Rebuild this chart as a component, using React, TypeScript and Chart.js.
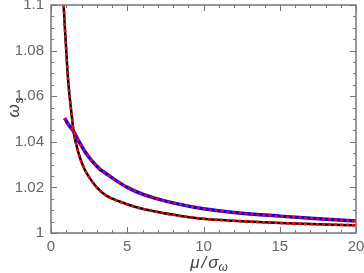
import React, { useEffect, useRef } from "react";
import { Chart, registerables } from "chart.js";

Chart.register(...registerables);

const xTicks = [0, 5, 10, 15, 20];
const yTicks = [1, 1.02, 1.04, 1.06, 1.08, 1.1];

const blackX = [0.83, 0.9, 1.0, 1.1, 1.22, 1.35, 1.48, 1.65, 1.9, 2.2, 2.5, 3, 3.6, 4.5, 5.5, 7, 8.5, 10, 12.5, 15, 17.5, 20];
const blackY = [1.1, 1.091, 1.08, 1.069, 1.06, 1.052, 1.0446, 1.039, 1.033, 1.028, 1.0245, 1.02, 1.0165, 1.0138, 1.0115, 1.0092, 1.0075, 1.0062, 1.0052, 1.0044, 1.0038, 1.0034];

const blueX = [0.89, 1.1, 1.3, 1.5, 1.8, 2.2, 2.7, 3.2, 3.56, 4.2, 5, 6, 6.8, 8, 10, 12, 15, 17.5, 20];
const blueY = [1.0504, 1.048, 1.0462, 1.0443, 1.0405, 1.036, 1.0315, 1.028, 1.0263, 1.0233, 1.02, 1.017, 1.0153, 1.0132, 1.0106, 1.009, 1.0074, 1.0063, 1.0053];

const pts = (xs: number[], ys: number[]) => xs.map((x, i) => ({ x, y: ys[i] }));

const frameColor = "#777";
const labelColor = "#666";

const framePlugin = {
  id: "frame",
  afterDatasetsDraw(chart: any) {
    const { ctx, chartArea: a, scales } = chart;
    const xs = scales.x;
    const ys = scales.y;
    ctx.save();
    ctx.strokeStyle = frameColor;
    ctx.lineWidth = 1;
    ctx.beginPath();
    for (let v = 0; v <= 20; v += 1) {
      const px = Math.round(xs.getPixelForValue(v)) + 0.5;
      const len = v % 5 === 0 ? 6 : 3;
      ctx.moveTo(px, a.bottom);
      ctx.lineTo(px, a.bottom - len);
      ctx.moveTo(px, a.top);
      ctx.lineTo(px, a.top + len);
    }
    for (let k = 0; k <= 20; k++) {
      const v = 1 + k * 0.005;
      const py = Math.round(ys.getPixelForValue(v)) + 0.5;
      const len = k % 4 === 0 ? 6 : 3;
      ctx.moveTo(a.left, py);
      ctx.lineTo(a.left + len, py);
      ctx.moveTo(a.right, py);
      ctx.lineTo(a.right - len, py);
    }
    ctx.stroke();
    ctx.lineWidth = 1.5;
    ctx.strokeRect(a.left, a.top, a.right - a.left, a.bottom - a.top);
    // axis titles
    ctx.fillStyle = "#444";
    ctx.textBaseline = "alphabetic";
    ctx.textAlign = "left";
    const big = "italic 17px 'Liberation Sans', Arial, sans-serif";
    const small = "italic 12px 'Liberation Sans', Arial, sans-serif";
    // x title: μ/σ_ω
    const baseY = 268;
    const parts = ["\u03bc", "/", "\u03c3"];
    const gaps = [2, 2, 0];
    ctx.font = big;
    let total = 0;
    const widths = parts.map((p) => ctx.measureText(p).width);
    widths.forEach((w, i) => (total += w + gaps[i]));
    ctx.font = small;
    const sw = ctx.measureText("\u03c9").width;
    total += sw;
    let x = 209 - total / 2;
    ctx.font = big;
    parts.forEach((p, i) => {
      ctx.fillText(p, x, baseY);
      x += widths[i] + gaps[i];
    });
    ctx.font = small;
    ctx.fillText("\u03c9", x, baseY + 3);
    // y title: ω_s rotated
    ctx.translate(19, 108);
    ctx.rotate(-Math.PI / 2);
    ctx.font = big;
    const ow = ctx.measureText("\u03c9").width;
    ctx.font = "12px 'Liberation Sans', Arial, sans-serif";
    const sw2 = ctx.measureText("s").width;
    const sx = -(ow + sw2) / 2;
    ctx.font = big;
    ctx.fillText("\u03c9", sx, 0);
    ctx.font = "12px 'Liberation Sans', Arial, sans-serif";
    ctx.fillText("s", sx + ow + 1, 4);
    ctx.restore();
  },
};

export default function App() {
  const ref = useRef<HTMLCanvasElement | null>(null);
  useEffect(() => {
    document.body.style.margin = "0";
    const chart = new Chart(ref.current as HTMLCanvasElement, {
      type: "line",
      data: {
        datasets: [
          {
            data: pts(blackX, blackY),
            borderColor: "#000000",
            borderWidth: 2.5,
            pointRadius: 0,
            cubicInterpolationMode: "monotone",
            order: 3,
          },
          {
            data: pts(blackX, blackY),
            borderColor: "#ff0000",
            borderWidth: 2.5,
            borderDash: [3, 3],
            pointRadius: 0,
            cubicInterpolationMode: "monotone",
            order: 1,
          },
          {
            data: pts(blueX, blueY),
            borderColor: "#0000ff",
            borderWidth: 3.5,
            pointRadius: 0,
            cubicInterpolationMode: "monotone",
            order: 2,
          },
          {
            data: pts(blueX, blueY),
            borderColor: "#ff0000",
            borderWidth: 2.5,
            borderDash: [3, 3],
            pointRadius: 0,
            cubicInterpolationMode: "monotone",
            order: 0,
          },
        ],
      },
      options: {
        responsive: false,
        animation: false,
        layout: { padding: { top: 5, right: 8, left: 0, bottom: 0 } },
        plugins: { legend: { display: false }, tooltip: { enabled: false } },
        scales: {
          x: {
            type: "linear",
            min: 0,
            max: 20,
            grid: { display: false, drawTicks: false },
            border: { display: false },
            afterBuildTicks: (s: any) => {
              s.ticks = xTicks.map((v) => ({ value: v }));
            },
            afterFit: (s: any) => {
              s.height = 40;
              s.paddingLeft = 0;
              s.paddingRight = 0;
            },
            ticks: {
              color: labelColor,
              font: { family: "'Liberation Sans', Arial, sans-serif", size: 15 },
              padding: 5,
              maxRotation: 0,
              callback: (v: any) => String(v),
            },
          },
          y: {
            type: "linear",
            min: 1,
            max: 1.1,
            grid: { display: false, drawTicks: false },
            border: { display: false },
            afterBuildTicks: (s: any) => {
              s.ticks = yTicks.map((v) => ({ value: v }));
            },
            afterFit: (s: any) => {
              s.width = 51;
              s.paddingTop = 0;
              s.paddingBottom = 0;
            },
            ticks: {
              color: labelColor,
              font: { family: "'Liberation Sans', Arial, sans-serif", size: 15 },
              padding: 7,
              callback: (v: any) => String(Math.round(Number(v) * 100) / 100),
            },
          },
        },
      },
      plugins: [framePlugin],
    } as any);
    return () => chart.destroy();
  }, []);
  return (
    <div style={{ position: "absolute", left: 0, top: 0, width: 364, height: 273 }}>
      <canvas ref={ref} width={364} height={273} />
    </div>
  );
}
